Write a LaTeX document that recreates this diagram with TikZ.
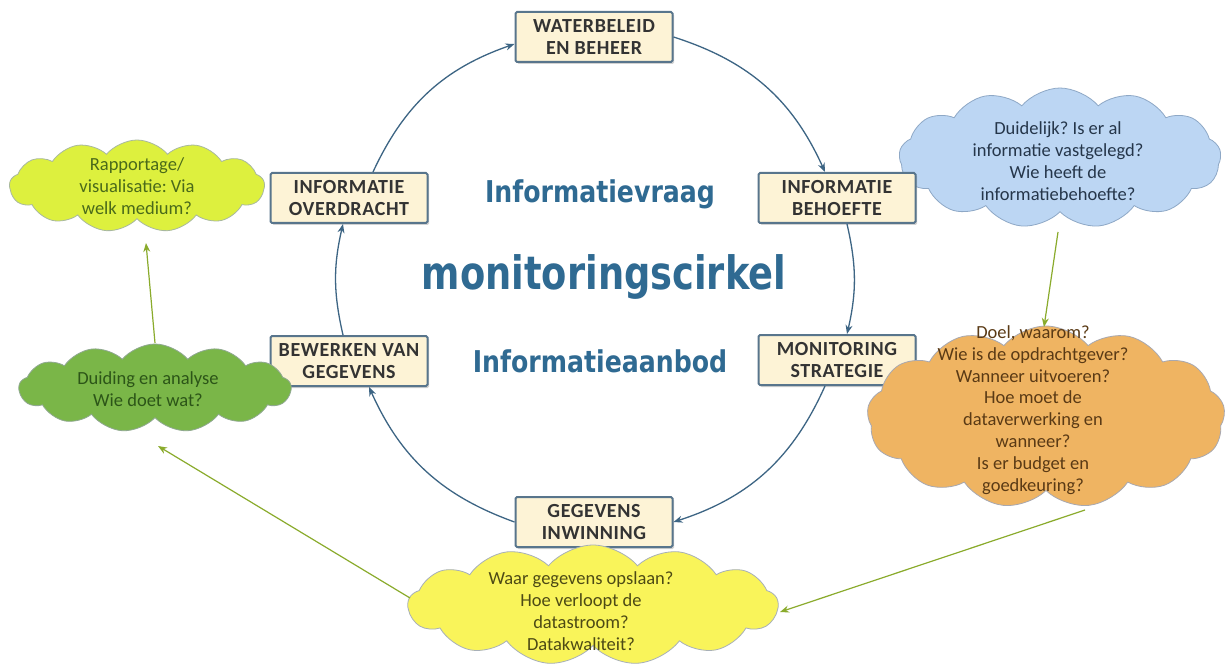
\documentclass[tikz,border=0pt]{standalone}
\usepackage{fontspec}
\setmainfont{Carlito}
\newfontfamily\titlefont{DejaVu Sans}
\newfontfamily\boxfont[LetterSpace=3]{Carlito}
\usetikzlibrary{shapes.symbols,shadows,arrows.meta}
\definecolor{arcc}{HTML}{3D6584}
\definecolor{boxb}{HTML}{58758C}
\definecolor{boxf}{HTML}{FDF3D6}
\definecolor{boxt}{HTML}{333333}
\definecolor{titc}{HTML}{2F6A92}
\definecolor{gcol}{HTML}{8AAB2C}
\definecolor{rapf}{HTML}{DDF03E}
\definecolor{rapd}{HTML}{A8B8A0}
\definecolor{rapt}{HTML}{4A6A1A}
\definecolor{duif}{HTML}{7AB648}
\definecolor{duid}{HTML}{8FA890}
\definecolor{duit}{HTML}{2C5518}
\definecolor{bluf}{HTML}{BCD6F3}
\definecolor{blud}{HTML}{8EA8C6}
\definecolor{blut}{HTML}{25364A}
\definecolor{oraf}{HTML}{EFB462}
\definecolor{orad}{HTML}{A8A8B0}
\definecolor{orat}{HTML}{5A3A15}
\definecolor{yelf}{HTML}{F9F45A}
\definecolor{yeld}{HTML}{A8B0B8}
\definecolor{yelt}{HTML}{4D4A15}
\frenchspacing
\begin{document}
\begin{tikzpicture}[x=1pt,y=-1pt,
  stagebox/.style={draw=boxb, line width=2pt, fill=boxf, rounded corners=1.5pt,
    minimum width=157pt, minimum height=50pt,
    drop shadow={opacity=0.35,shadow xshift=1.5pt,shadow yshift=-2pt},
    font=\boxfont\fontsize{20}{22}\selectfont\bfseries, text=boxt, align=center, inner sep=0pt},
  cyc/.style={draw=arcc, line width=1.3pt, -{Stealth[length=9pt,width=7pt]}},
  gline/.style={draw=gcol, line width=1.2pt, -{Stealth[length=9pt,width=7pt]}},
  bubble/.style={cloud, cloud puffs=13, cloud puff arc=100, cloud ignores aspect, inner sep=0pt, line width=0.8pt},
  bubtext/.style={align=center, font=\fontsize{18.5}{21.8}\selectfont},
  title/.style={text=titc, anchor=base}
]
\useasboundingbox (0,0) rectangle (1226,668);
\fill[white] (0,0) rectangle (1226,668);

% blue cloud lies behind the boxes
\node[bubble, fill=bluf, draw=blud, minimum width=322pt, minimum height=140pt] (blue) at (1060,158) {};
\node[bubtext, text=blut] (blueT) at (1058,161) {Duidelijk? Is er al\\informatie vastgelegd?\\Wie heeft de\\informatiebehoefte?};

% stage boxes
\node[stagebox] (water) at (594,37) {WATERBELEID\\EN BEHEER};
\node[stagebox] (behoefte) at (837,198) {INFORMATIE\\BEHOEFTE};
\node[stagebox] (strategie) at (837,360) {MONITORING\\STRATEGIE};
\node[stagebox] (inwinning) at (594,522) {GEGEVENS\\INWINNING};
\node[stagebox] (bewerken) at (349,361) {BEWERKEN VAN\\GEGEVENS};
\node[stagebox] (overdracht) at (349,198) {INFORMATIE\\OVERDRACHT};

% cycle arcs
\draw[cyc] (water.east) to[bend left=24] ([xshift=-12pt]behoefte.north);
\draw[cyc] ([xshift=10pt]behoefte.south) to[bend left=13] ([xshift=10pt]strategie.north);
\draw[cyc] ([xshift=-12pt]strategie.south) to[bend left=24] (inwinning.east);
\draw[cyc] (inwinning.west) to[bend left=23] ([xshift=20pt]bewerken.south);
\draw[cyc] ([xshift=-6pt]bewerken.north) to[bend left=13] ([xshift=-6pt]overdracht.south);
\draw[cyc] ([xshift=24pt]overdracht.north) to[bend left=23] ([yshift=-7pt]water.west);

% centre titles
\node[title, font=\titlefont\bfseries\fontsize{30}{36}\selectfont] (vraag) at (600,203) {\scalebox{0.84}[1]{Informatievraag}};
\node[title, font=\titlefont\bfseries\fontsize{46}{52}\selectfont] (cirkel) at (604,290) {\scalebox{0.8}[1]{monitoringscirkel}};
\node[title, font=\titlefont\bfseries\fontsize{30}{36}\selectfont] (aanbod) at (600,372) {\scalebox{0.84}[1]{Informatieaanbod}};

% clouds
\node[bubble, fill=rapf, draw=rapd, minimum width=255pt, minimum height=92pt] (rap) at (137,186) {};
\node[bubtext, text=rapt] (rapT) at (137,186) {Rapportage/\\visualisatie: Via\\welk medium?};

\node[bubble, fill=duif, draw=duid, minimum width=272pt, minimum height=88pt] (duid) at (155,388) {};
\node[bubtext, text=duit] (duidT) at (148,389) {Duiding en analyse\\Wie doet wat?};

\node[bubble, fill=oraf, draw=orad, minimum width=358pt, minimum height=182pt] (orange) at (1046,417) {};
\node[bubtext, text=orat] (orangeT) at (1033,410) {Doel, waarom?\\Wie is de opdrachtgever?\\Wanneer uitvoeren?\\Hoe moet de\\dataverwerking en\\wanneer?\\Is er budget en\\goedkeuring?};

\node[bubble, fill=yelf, draw=yeld, minimum width=370pt, minimum height=120pt] (yel) at (593,605) {};
\node[bubtext, text=yelt] (yelT) at (581,611) {Waar gegevens opslaan?\\Hoe verloopt de\\datastroom?\\Datakwaliteit?};

% green connectors
\draw[gline] ([shift={(0,-45)}]duid.center) -- ([shift={(9,57)}]rap.center);
\draw[gline] ([shift={(-183,-7)}]yel.center) -- ([shift={(3,58)}]duid.center);
\draw[gline] ([shift={(-2,74)}]blue.center) -- ([shift={(-2,-90)}]orange.center);
\draw[gline] ([shift={(39,93)}]orange.center) -- ([shift={(187,7)}]yel.center);
\end{tikzpicture}
\end{document}
